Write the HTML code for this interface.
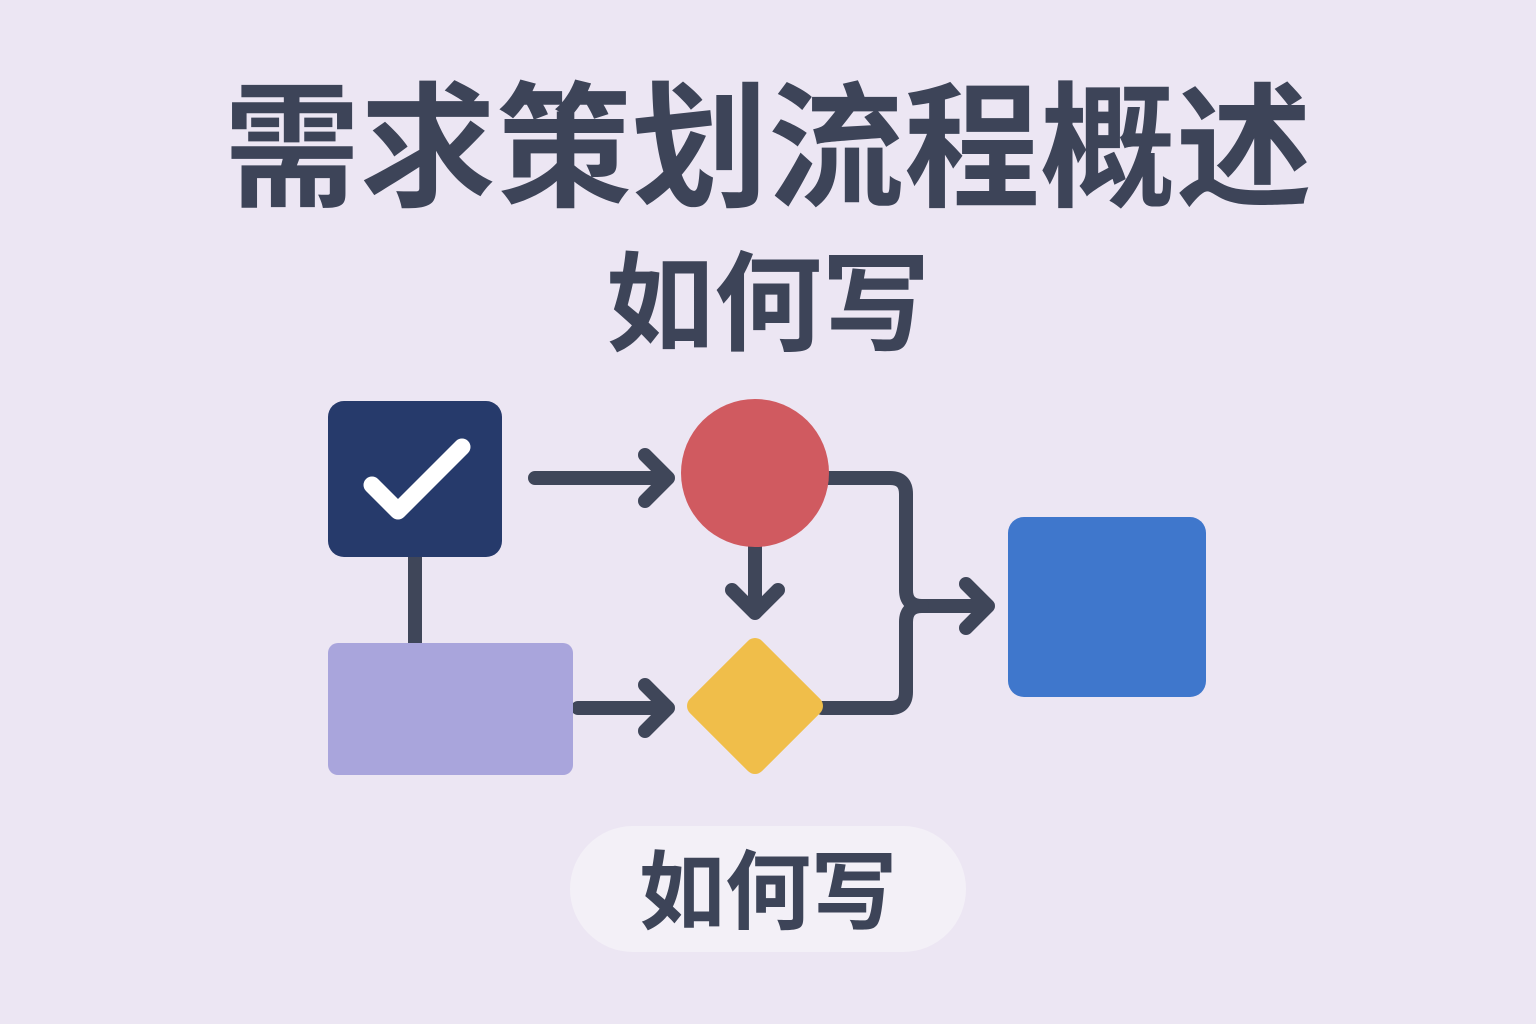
<!DOCTYPE html>
<html><head><meta charset="utf-8"><style>
html,body{margin:0;padding:0;}
body{width:1536px;height:1024px;background:#ece6f3;position:relative;overflow:hidden;font-family:"Liberation Sans","Noto Sans CJK SC",sans-serif;}
.t{position:absolute;left:0;width:1536px;text-align:center;color:#3d4458;font-weight:bold;white-space:nowrap;}
</style></head><body>
<div class="t" style="top:64px;font-size:136px;line-height:170px;">需求策划流程概述</div>
<div class="t" style="top:245px;font-size:108px;line-height:120px;">如何写</div>
<div style="position:absolute;left:570px;top:826px;width:396px;height:126px;border-radius:63px;background:#f3f0f7;"></div>
<div class="t" style="top:843px;font-size:86px;line-height:100px;">如何写</div>
<svg width="1536" height="1024" style="position:absolute;left:0;top:0">
<g fill="none" stroke="#3f4659" stroke-width="14" stroke-linecap="round" stroke-linejoin="round">
<line x1="415" y1="550" x2="415" y2="650"/>
<path d="M535 478 H668 M645 455 L668 478 L645 501"/>
<path d="M578 708 H668 M645 685 L668 708 L645 731"/>
<path d="M755 540 V612 M732 590 L755 613 L778 590"/>
<path d="M826 478 H890 Q906 478 906 494 V590 Q906 606 922 606 H988 M966 584 L988 606 L966 628"/>
<path d="M822 708 H890 Q906 708 906 692 V622 Q906 606 922 606"/>
</g>
<rect x="328" y="401" width="174" height="156" rx="16" fill="#263a6b"/>
<path d="M372 485 L398 511 L462 447" fill="none" stroke="#fff" stroke-width="17" stroke-linecap="round" stroke-linejoin="round"/>
<rect x="328" y="643" width="245" height="132" rx="10" fill="#a9a5dc"/>
<circle cx="755" cy="473" r="74" fill="#d05a60"/>
<rect x="704" y="655" width="102" height="102" rx="10" fill="#f0be4a" transform="rotate(45 755 706)"/>
<rect x="1008" y="517" width="198" height="180" rx="16" fill="#3f77cc"/>
</svg>
</body></html>
